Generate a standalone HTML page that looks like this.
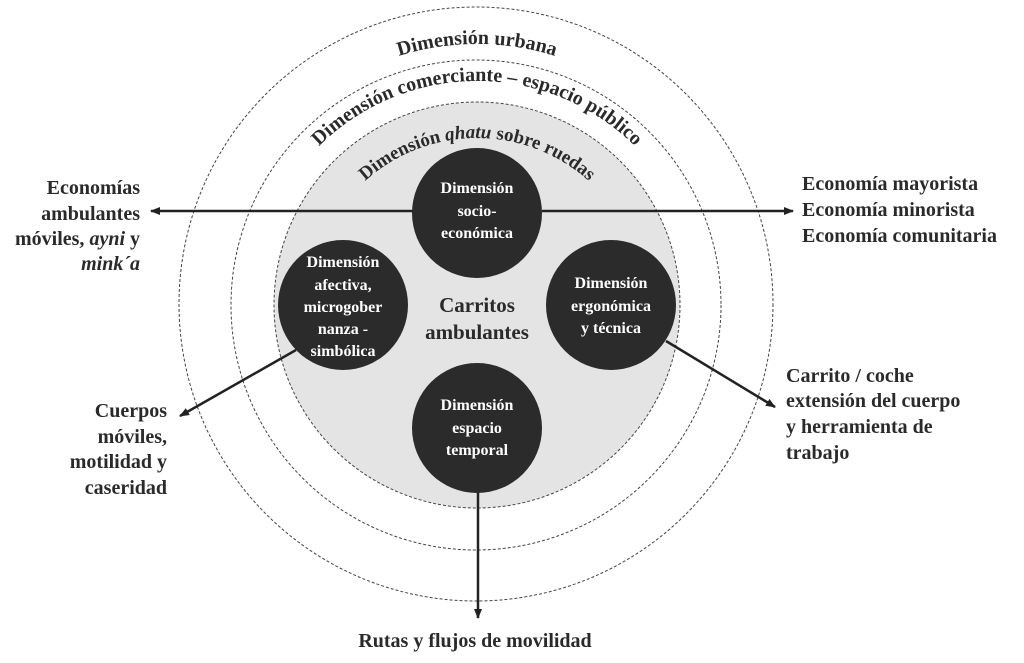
<!DOCTYPE html>
<html><head><meta charset="utf-8"><style>
html,body{margin:0;padding:0;background:#fff;font-family:"Liberation Serif","DejaVu Serif",serif;}
svg{display:block;}
svg text, svg textPath, svg tspan{font-family:"Liberation Serif","DejaVu Serif",serif !important;font-weight:bold;}
</style></head><body>
<svg width="1024" height="663" viewBox="0 0 1024 663" xmlns="http://www.w3.org/2000/svg" font-family="'Liberation Serif', 'DejaVu Serif', serif">
<defs>
<marker id="ah" markerWidth="10" markerHeight="10" refX="9" refY="5" orient="auto" markerUnits="userSpaceOnUse">
<path d="M0,1 L10,5 L0,9 Z" fill="#222"/></marker>
<path id="p1" d="M216,305 A261,261 0 0 1 738,305"/>
<path id="p2" d="M253,305 A224,224 0 0 1 701,305"/>
<path id="p3" d="M310,305 A167,167 0 0 1 644,305"/>
</defs>
<circle cx="476" cy="304" r="297" fill="none" stroke="#444" stroke-width="1" stroke-dasharray="3 2"/>
<circle cx="476" cy="305" r="245" fill="none" stroke="#444" stroke-width="1" stroke-dasharray="3 2"/>
<circle cx="477" cy="305" r="203" fill="#e4e4e4" stroke="#444" stroke-width="1" stroke-dasharray="3 2"/>

<text font-size="20" fill="#2a2a2a" text-anchor="middle" font-family="'Liberation Serif', serif" font-weight="bold"><textPath href="#p1" startOffset="50%">Dimensión urbana</textPath></text>
<text font-size="20" fill="#2a2a2a" text-anchor="middle" font-family="'Liberation Serif', serif" font-weight="bold"><textPath href="#p2" startOffset="50%">Dimensión comerciante – espacio público</textPath></text>
<text font-size="19" fill="#2a2a2a" text-anchor="middle" font-family="'Liberation Serif', serif" font-weight="bold"><textPath href="#p3" startOffset="50%">Dimensión <tspan font-style="italic">qhatu</tspan> sobre ruedas</textPath></text>

<g stroke="#222" stroke-width="2.5" fill="none">
<line x1="413" y1="211" x2="151" y2="211" marker-end="url(#ah)"/>
<line x1="542" y1="211" x2="793" y2="211" marker-end="url(#ah)"/>
<line x1="296" y1="350" x2="180" y2="416" marker-end="url(#ah)"/>
<line x1="666" y1="341" x2="775" y2="407" marker-end="url(#ah)"/>
<line x1="478" y1="490" x2="478" y2="618" marker-end="url(#ah)"/>
</g>

<g fill="#2b2b2b">
<circle cx="477" cy="213" r="65"/>
<circle cx="343" cy="305" r="65"/>
<circle cx="611" cy="305" r="65"/>
<circle cx="477" cy="428" r="65"/>
</g>

<g fill="#fff" font-size="16" text-anchor="middle" font-family="'Liberation Serif', serif" font-weight="bold">
<text x="477" y="193">Dimensión</text>
<text x="477" y="216">socio-</text>
<text x="477" y="238">económica</text>
<text x="343" y="267">Dimensión</text>
<text x="343" y="290">afectiva,</text>
<text x="343" y="312">microgober</text>
<text x="343" y="334">nanza -</text>
<text x="343" y="356">simbólica</text>
<text x="611" y="288">Dimensión</text>
<text x="611" y="311">ergonómica</text>
<text x="611" y="333">y técnica</text>
<text x="477" y="410">Dimensión</text>
<text x="477" y="433">espacio</text>
<text x="477" y="455">temporal</text>
</g>

<g fill="#2a2a2a" font-size="20" font-family="'Liberation Serif', serif" font-weight="bold">
<text x="477" y="312" text-anchor="middle" font-size="21">Carritos</text>
<text x="477" y="339" text-anchor="middle" font-size="21">ambulantes</text>
<text x="140" y="194" text-anchor="end">Economías</text>
<text x="140" y="220" text-anchor="end">ambulantes</text>
<text x="140" y="245" text-anchor="end">móviles, <tspan font-style="italic">ayni</tspan> y</text>
<text x="140" y="270" text-anchor="end" font-style="italic">mink´a</text>
<text x="167" y="417" text-anchor="end">Cuerpos</text>
<text x="167" y="443" text-anchor="end">móviles,</text>
<text x="167" y="468" text-anchor="end">motilidad y</text>
<text x="167" y="494" text-anchor="end">caseridad</text>
<text x="802" y="190">Economía mayorista</text>
<text x="802" y="216">Economía minorista</text>
<text x="802" y="242">Economía comunitaria</text>
<text x="786" y="382">Carrito / coche</text>
<text x="786" y="407">extensión del cuerpo</text>
<text x="786" y="433">y herramienta de</text>
<text x="786" y="459">trabajo</text>
<text x="475" y="647" text-anchor="middle">Rutas y flujos de movilidad</text>
</g>
</svg>
</body></html>
